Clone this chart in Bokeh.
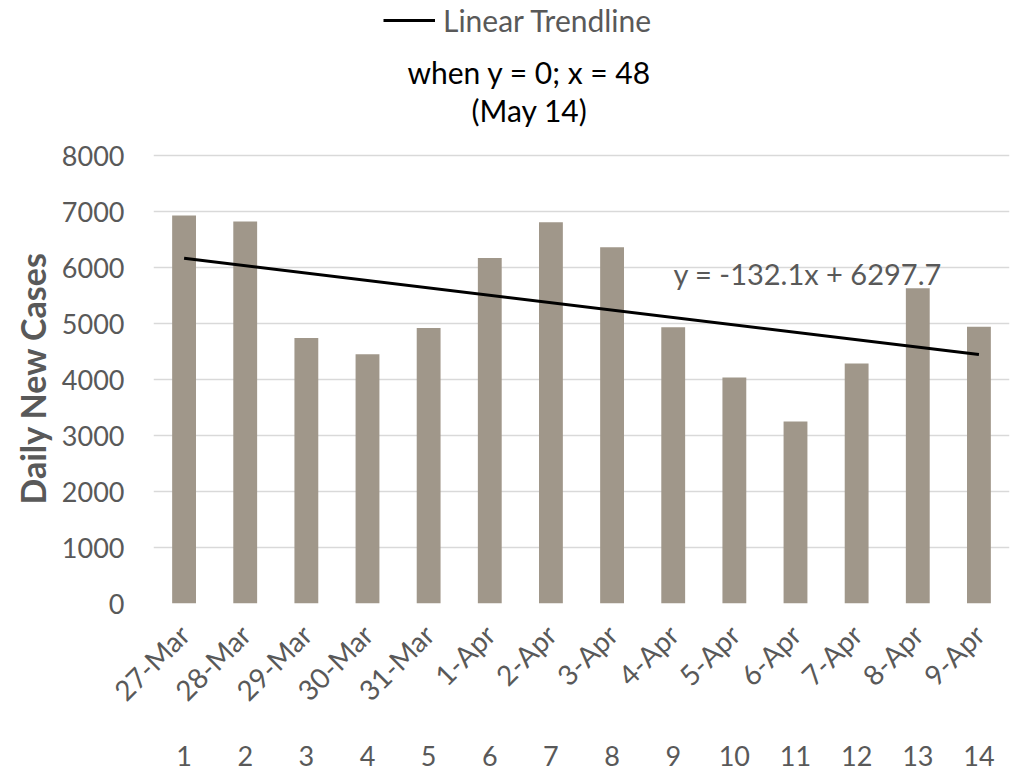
from math import pi
from bokeh.plotting import figure
from bokeh.models import (ColumnDataSource, LinearAxis, FixedTicker, Range1d,
                          Legend, LegendItem, Label, Title)
from bokeh.embed import file_html
from bokeh.resources import INLINE

# ---- data ----
dates = ["27-Mar", "28-Mar", "29-Mar", "30-Mar", "31-Mar", "1-Apr", "2-Apr",
         "3-Apr", "4-Apr", "5-Apr", "6-Apr", "7-Apr", "8-Apr", "9-Apr"]
day_index = [1, 2, 3, 4, 5, 6, 7, 8, 9, 10, 11, 12, 13, 14]
new_cases = [6930, 6820, 4740, 4450, 4920, 6170, 6810, 6360, 4935, 4035,
             3250, 4285, 5630, 4940]
trend_slope = -132.1
trend_intercept = 6297.7
y_ticks = [0, 1000, 2000, 3000, 4000, 5000, 6000, 7000, 8000]
y_title = "Daily New Cases"
equation_text = "y = -132.1x + 6297.7"
note_line1 = "when y = 0; x = 48"
note_line2 = "(May 14)"

FONT = "Lato"
GRAY = "#595959"
BAR = "#a0978a"

src = ColumnDataSource(dict(x=day_index, y=new_cases))
trend_x = [day_index[0], day_index[-1]]
trend_src = ColumnDataSource(dict(x=trend_x,
                                  y=[trend_slope * v + trend_intercept for v in trend_x]))

p = figure(width=1025, height=770, output_backend="svg", toolbar_location=None,
           x_range=Range1d(0.5, 14.5), y_range=Range1d(0, 10768),
           min_border_left=153, min_border_right=16, min_border_top=0,
           min_border_bottom=167, title=None)
p.outline_line_color = None
p.background_fill_color = "white"
p.border_fill_color = "white"

p.vbar(x="x", top="y", width=0.39, source=src, fill_color=BAR, line_color=None)
trend = p.line(x="x", y="y", source=trend_src, line_color="black", line_width=3)

# grid
p.xgrid.visible = False
p.ygrid.ticker = FixedTicker(ticks=y_ticks)
p.ygrid.grid_line_color = "#d9d9d9"
p.ygrid.grid_line_width = 1.5

# y axis
ya = p.yaxis[0]
ya.ticker = FixedTicker(ticks=y_ticks)
ya.axis_line_color = None
ya.major_tick_line_color = None
ya.minor_tick_line_color = None
ya.major_tick_out = 0
ya.major_label_standoff = 29
ya.major_label_text_font = FONT
ya.major_label_text_font_size = "27px"
ya.major_label_text_color = GRAY

# y-axis title (left-side title, shifted to centre on the 0..8000 span)
ytitle = Title(text=y_title, align="left", offset=99, standoff=12,
               text_font=FONT, text_font_size="34px", text_font_style="bold",
               text_color=GRAY)
p.add_layout(ytitle, "left")

# date axis
xa = p.xaxis[0]
xa.ticker = FixedTicker(ticks=day_index)
xa.major_label_overrides = {i: d for i, d in zip(day_index, dates)}
xa.major_label_orientation = pi / 4
xa.axis_line_color = None
xa.major_tick_line_color = None
xa.minor_tick_line_color = None
xa.major_tick_out = 0
xa.major_label_standoff = 26
xa.major_label_text_font = FONT
xa.major_label_text_font_size = "28px"
xa.major_label_text_color = GRAY

# index axis
na = LinearAxis(ticker=FixedTicker(ticks=day_index))
na.axis_line_color = None
na.major_tick_line_color = None
na.minor_tick_line_color = None
na.major_tick_out = 0
na.major_label_standoff = 24
na.major_label_text_font = FONT
na.major_label_text_font_size = "27px"
na.major_label_text_color = GRAY
p.add_layout(na, "below")

# equation + note
p.add_layout(Label(x=11.2, y=5900, text=equation_text, text_align="center",
                   text_baseline="middle", text_font=FONT, text_font_size="29px",
                   text_color=GRAY))
p.add_layout(Label(x=6.65, y=9500, text=note_line1, text_align="center",
                   text_baseline="middle", text_font=FONT, text_font_size="30px",
                   text_color="black"))
p.add_layout(Label(x=6.65, y=8810, text=note_line2, text_align="center",
                   text_baseline="middle", text_font=FONT, text_font_size="30px",
                   text_color="black"))

legend = Legend(items=[LegendItem(label="Linear Trendline", renderers=[trend])],
                location=(230, 565), orientation="horizontal",
                border_line_color=None, background_fill_alpha=0,
                padding=0, margin=0, glyph_width=52, label_standoff=8,
                label_text_font=FONT, label_text_font_size="30px",
                label_text_color=GRAY)
p.add_layout(legend)

open("out.html", "w").write(file_html(p, INLINE))
